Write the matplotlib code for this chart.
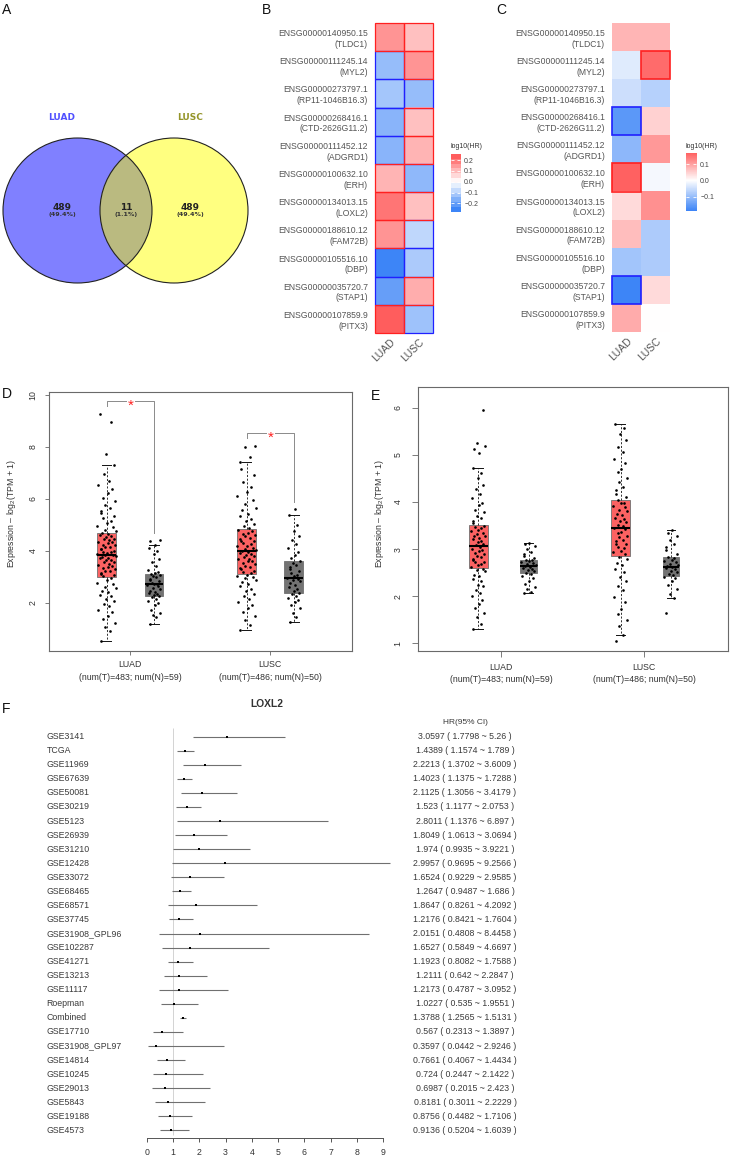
import numpy as np
import matplotlib
matplotlib.use('Agg')
import matplotlib.pyplot as plt
from matplotlib.patches import Ellipse, Rectangle
from matplotlib.colors import LinearSegmentedColormap, Normalize
from matplotlib.transforms import blended_transform_factory

plt.rcParams['font.family'] = ['Liberation Sans', 'DejaVu Sans']
plt.rcParams['mathtext.fontset'] = 'custom'
plt.rcParams['mathtext.rm'] = 'Liberation Sans'
plt.rcParams['mathtext.it'] = 'Liberation Sans:italic'

# ------------------------------------------------------------------ data
# A: Venn
venn_sets = ['LUAD', 'LUSC']
venn_counts = [489, 11, 489]          # LUAD only, both, LUSC only

# B / C heatmaps
gene_ids = ['ENSG00000140950.15', 'ENSG00000111245.14', 'ENSG00000273797.1',
            'ENSG00000268416.1', 'ENSG00000111452.12', 'ENSG00000100632.10',
            'ENSG00000134013.15', 'ENSG00000188610.12', 'ENSG00000105516.10',
            'ENSG00000035720.7', 'ENSG00000107859.9']
gene_symbols = ['TLDC1', 'MYL2', 'RP11-1046B16.3', 'CTD-2626G11.2', 'ADGRD1', 'ERH',
                'LOXL2', 'FAM72B', 'DBP', 'STAP1', 'PITX3']
heat_cols = ['LUAD', 'LUSC']
hr_b_luad = [0.17, -0.15, -0.13, -0.17, -0.17, 0.12, 0.22, 0.17, -0.28, -0.22, 0.256]
hr_b_lusc = [0.10, 0.17, -0.15, 0.10, 0.12, -0.16, 0.10, -0.09, -0.12, 0.13, -0.14]
sig_b_luad = [1, 1, 1, 1, 1, 1, 1, 1, 1, 1, 1]
sig_b_lusc = [1, 1, 1, 1, 1, 1, 1, 1, 1, 1, 1]
hr_c_luad = [0.08, -0.03, -0.05, -0.16, -0.11, 0.17, 0.04, 0.07, -0.09, -0.19, 0.09]
hr_c_lusc = [0.08, 0.16, -0.07, 0.05, 0.11, -0.01, 0.12, -0.08, -0.08, 0.04, 0.0]
sig_c_luad = [0, 0, 0, 1, 0, 1, 0, 0, 0, 1, 0]
sig_c_lusc = [0, 1, 0, 0, 0, 0, 0, 0, 0, 0, 0]

# D / E boxplots (order: LUAD-T, LUAD-N, LUSC-T, LUSC-N)
box_cats = ['LUAD', 'LUSC']
num_t = [483, 486]
num_n = [59, 50]
box_d_med = [3.85, 2.72, 4.00, 2.95]
box_d_q1 = [2.99, 2.27, 3.10, 2.37]
box_d_q3 = [4.70, 3.10, 4.83, 3.62]
box_d_lo = [0.55, 1.18, 0.96, 1.28]
box_d_hi = [7.28, 4.24, 7.43, 5.36]
sig_d = [True, True]
pts_d_luad_t = [0.55, 0.93, 1.07, 1.22, 1.38, 1.5, 1.64, 1.73, 1.86, 1.94, 2.06, 2.13, 2.26, 2.31,
                2.42, 2.47, 2.56, 2.61, 2.72, 2.77, 2.87, 2.94, 3.02, 3.07, 3.09, 3.16, 3.21, 3.23,
                3.29, 3.34, 3.36, 3.43, 3.47, 3.49, 3.55, 3.57, 3.63, 3.66, 3.71, 3.72, 3.77, 3.8,
                3.83, 3.84, 3.88, 3.9, 3.94, 3.96, 4.01, 4.05, 4.07, 4.13, 4.15, 4.21, 4.23, 4.29,
                4.33, 4.35, 4.41, 4.45, 4.47, 4.53, 4.55, 4.61, 4.64, 4.69, 4.76, 4.81, 4.91, 4.97,
                5.07, 5.14, 5.26, 5.34, 5.46, 5.54, 5.66, 5.77, 5.91, 6.04, 6.21, 6.36, 6.52, 6.69,
                6.96, 7.28, 7.7, 8.95, 9.25]
pts_d_luad_n = [1.18, 1.45, 1.52, 1.61, 1.74, 1.9, 2.0, 2.08, 2.15, 2.21, 2.25, 2.3, 2.34, 2.38,
                2.42, 2.47, 2.52, 2.58, 2.63, 2.68, 2.71, 2.74, 2.78, 2.83, 2.88, 2.93, 2.98, 3.03,
                3.08, 3.12, 3.16, 3.2, 3.28, 3.41, 3.55, 3.7, 3.86, 3.98, 4.1, 4.24, 4.36, 4.43]
pts_d_lusc_t = [0.96, 1.16, 1.34, 1.51, 1.64, 1.79, 1.9, 2.03, 2.13, 2.26, 2.35, 2.47, 2.54, 2.65,
                2.71, 2.81, 2.86, 2.95, 2.99, 3.05, 3.08, 3.13, 3.19, 3.22, 3.29, 3.32, 3.39, 3.42,
                3.49, 3.52, 3.59, 3.61, 3.68, 3.7, 3.76, 3.79, 3.85, 3.87, 3.93, 3.95, 3.99, 4.03,
                4.08, 4.1, 4.17, 4.19, 4.26, 4.29, 4.36, 4.39, 4.46, 4.49, 4.56, 4.59, 4.66, 4.69,
                4.76, 4.8, 4.88, 4.96, 5.02, 5.13, 5.21, 5.33, 5.42, 5.56, 5.66, 5.81, 5.94, 6.11,
                6.24, 6.46, 6.64, 6.91, 7.14, 7.43, 7.6, 7.98, 8.02]
pts_d_lusc_n = [1.28, 1.46, 1.61, 1.8, 1.93, 2.02, 2.11, 2.2, 2.28, 2.33, 2.38, 2.45, 2.52, 2.6,
                2.68, 2.75, 2.82, 2.88, 2.93, 2.97, 3.02, 3.08, 3.15, 3.22, 3.3, 3.38, 3.45, 3.52,
                3.6, 3.71, 3.84, 3.95, 4.1, 4.26, 4.4, 4.55, 4.76, 5.0, 5.36, 5.6]

box_e_med = [3.06, 2.65, 3.45, 2.63]
box_e_q1 = [2.60, 2.49, 2.86, 2.43]
box_e_q3 = [3.51, 2.77, 4.05, 2.84]
box_e_lo = [1.30, 2.07, 1.19, 1.97]
box_e_hi = [4.72, 3.14, 5.66, 3.40]
sig_e = [False, False]
pts_e_luad_t = [1.3, 1.42, 1.56, 1.64, 1.76, 1.83, 1.93, 2.0, 2.08, 2.13, 2.21, 2.25, 2.33, 2.36,
                2.43, 2.46, 2.53, 2.55, 2.59, 2.62, 2.66, 2.68, 2.72, 2.73, 2.78, 2.8, 2.84, 2.86,
                2.9, 2.92, 2.96, 2.98, 3.01, 3.04, 3.08, 3.1, 3.15, 3.17, 3.21, 3.23, 3.27, 3.29,
                3.33, 3.35, 3.39, 3.41, 3.45, 3.47, 3.5, 3.56, 3.6, 3.67, 3.71, 3.79, 3.84, 3.93,
                3.99, 4.09, 4.16, 4.28, 4.37, 4.51, 4.61, 4.72, 5.05, 5.12, 5.18, 5.25, 5.95]
pts_e_luad_n = [2.07, 2.1, 2.15, 2.2, 2.26, 2.32, 2.38, 2.43, 2.47, 2.5, 2.53, 2.56, 2.58, 2.6,
                2.62, 2.64, 2.66, 2.68, 2.7, 2.72, 2.74, 2.76, 2.78, 2.81, 2.85, 2.9, 2.95, 3.0,
                3.06, 3.1, 3.14]
pts_e_lusc_t = [1.05, 1.19, 1.36, 1.49, 1.63, 1.74, 1.89, 1.99, 2.13, 2.21, 2.33, 2.41, 2.51, 2.57,
                2.66, 2.71, 2.79, 2.83, 2.89, 2.94, 2.96, 3.02, 3.04, 3.1, 3.12, 3.18, 3.2, 3.26,
                3.28, 3.34, 3.36, 3.42, 3.44, 3.49, 3.51, 3.57, 3.59, 3.65, 3.67, 3.73, 3.75, 3.81,
                3.83, 3.89, 3.91, 3.97, 3.99, 4.04, 4.11, 4.16, 4.26, 4.32, 4.43, 4.51, 4.63, 4.71,
                4.83, 4.92, 5.06, 5.17, 5.31, 5.44, 5.57, 5.66]
pts_e_lusc_n = [1.65, 1.97, 2.05, 2.15, 2.25, 2.32, 2.38, 2.42, 2.45, 2.48, 2.51, 2.54, 2.57, 2.6,
                2.62, 2.64, 2.66, 2.69, 2.72, 2.75, 2.78, 2.81, 2.84, 2.9, 2.98, 3.05, 3.12, 3.2,
                3.28, 3.35, 3.4]

# F: forest plot
forest_title = 'LOXL2'
forest_names = ['GSE3141', 'TCGA', 'GSE11969', 'GSE67639', 'GSE50081', 'GSE30219', 'GSE5123',
                'GSE26939', 'GSE31210', 'GSE12428', 'GSE33072', 'GSE68465', 'GSE68571',
                'GSE37745', 'GSE31908_GPL96', 'GSE102287', 'GSE41271', 'GSE13213', 'GSE11117',
                'Roepman', 'Combined', 'GSE17710', 'GSE31908_GPL97', 'GSE14814', 'GSE10245',
                'GSE29013', 'GSE5843', 'GSE19188', 'GSE4573']
forest_hr = [3.0597, 1.4389, 2.2213, 1.4023, 2.1125, 1.523, 2.8011, 1.8049, 1.974, 2.9957,
             1.6524, 1.2647, 1.8647, 1.2176, 2.0151, 1.6527, 1.1923, 1.2111, 1.2173, 1.0227,
             1.3788, 0.567, 0.3597, 0.7661, 0.724, 0.6987, 0.8181, 0.8756, 0.9136]
forest_lo = [1.7798, 1.1574, 1.3702, 1.1375, 1.3056, 1.1177, 1.1376, 1.0613, 0.9935, 0.9695,
             0.9229, 0.9487, 0.8261, 0.8421, 0.4808, 0.5849, 0.8082, 0.642, 0.4787, 0.535,
             1.2565, 0.2313, 0.0442, 0.4067, 0.2447, 0.2015, 0.3011, 0.4482, 0.5204]
forest_hi = [5.26, 1.789, 3.6009, 1.7288, 3.4179, 2.0753, 6.897, 3.0694, 3.9221, 9.2566,
             2.9585, 1.686, 4.2092, 1.7604, 8.4458, 4.6697, 1.7588, 2.2847, 3.0952, 1.9551,
             1.5131, 1.3897, 2.9246, 1.4434, 2.1422, 2.423, 2.2229, 1.7106, 1.6039]

# ------------------------------------------------------------------ figure
W, H = 730, 1159
fig = plt.figure(figsize=(W / 100, H / 100), dpi=100)


def axpx(x0, y0, x1, y1):
    return fig.add_axes([x0 / W, 1 - y1 / H, (x1 - x0) / W, (y1 - y0) / H])


def ftext(x, y, s, **kw):
    return fig.text(x / W, 1 - y / H, s, **kw)


for lab, (x, y) in zip('ABCDEF', [(2, 3), (262, 3), (496, 3), (2, 387), (371, 389), (2, 702)]):
    ftext(x, y, lab, fontsize=10, va='top', ha='left', color='#111111')

# ------------------------------------------------------------------ A: Venn
axa = axpx(0, 0, 250, 300)
axa.set_xlim(0, 250)
axa.set_ylim(300, 0)
axa.axis('off')
cl, cr = (77.5, 210.5), (174, 210.5)
eL = Ellipse(cl, 149, 145, fc='#8080ff', ec='none')
eR = Ellipse(cr, 148, 145, fc='#ffff80', ec='none')
eI = Ellipse(cl, 149, 145, fc='#baba80', ec='none')
for p in (eL, eR, eI):
    axa.add_patch(p)
eI.set_clip_path(eR)
axa.add_patch(Ellipse(cl, 149, 145, fill=False, ec='#222222', lw=0.8))
axa.add_patch(Ellipse(cr, 148, 145, fill=False, ec='#222222', lw=0.8))
total = sum(venn_counts)
venn_x = [62, 126, 190]
for x, c in zip(venn_x, venn_counts):
    axa.text(x, 207, str(c), ha='center', va='center', fontsize=6.5, fontweight='bold',
             family='DejaVu Sans', color='#222222')
    axa.text(x, 214.5, '(%.1f%%)' % (100 * c / total), ha='center', va='center', fontsize=4.6,
             fontweight='bold', family='DejaVu Sans', color='#333333')
axa.text(62, 118, venn_sets[0], ha='center', va='center', fontsize=6.5, fontweight='bold',
         family='DejaVu Sans', color='#5050ff')
axa.text(190, 118, venn_sets[1], ha='center', va='center', fontsize=6.5, fontweight='bold',
         family='DejaVu Sans', color='#95952a')

# ------------------------------------------------------------------ B, C heatmaps
cmap = LinearSegmentedColormap.from_list('hr', ['#3d85f7', '#ffffff', '#ff5050'])


def heatmap(box, luad, lusc, sl, ss, cbox, title_xy, ticks, tlabels, lw, steps):
    ax = axpx(*box)
    data = np.column_stack([luad, lusc])
    sig = np.column_stack([sl, ss])
    m = np.abs(data).max()
    norm = Normalize(-m, m)
    ax.imshow(data, cmap=cmap, norm=norm, aspect='auto', interpolation='nearest')
    n = data.shape[0]
    for i in range(n):
        for j in range(2):
            if sig[i, j]:
                ax.add_patch(Rectangle((j - 0.5, i - 0.5), 1, 1, fill=False, clip_on=False,
                                       ec='#ff2020' if data[i, j] > 0 else '#2020ff', lw=lw,
                                       zorder=3 + (1 if data[i, j] > 0 else 0)))
    ax.set_xlim(-0.5, 1.5)
    ax.set_ylim(n - 0.5, -0.5)
    ax.set_yticks(range(n))
    ax.set_yticklabels(['%s\n(%s)' % (g, s) for g, s in zip(gene_ids, gene_symbols)],
                       fontsize=6.2, color='#555555', linespacing=1.25)
    ax.set_xticks([0, 1])
    ax.set_xticklabels(heat_cols, rotation=45, ha='right', va='top', rotation_mode='anchor',
                       fontsize=7.5, color='#555555')
    ax.tick_params(length=0, pad=5)
    ax.tick_params(axis='x', pad=3)
    for s in ax.spines.values():
        s.set_visible(False)
    cax = axpx(*cbox)
    dmin, dmax = data.min(), data.max()
    grad = np.linspace(dmax, dmin, steps)[:, None]
    cax.imshow(grad, cmap=cmap, norm=norm, aspect='auto', extent=(0, 1, dmin, dmax),
               interpolation='nearest')
    cax.set_xlim(0, 1)
    cax.set_ylim(dmin, dmax)
    cax.set_xticks([])
    cax.set_yticks(ticks)
    cax.set_yticklabels(tlabels)
    cax.yaxis.tick_right()
    cax.tick_params(axis='y', direction='in', color='white', length=2, width=0.6,
                    labelcolor='#444444', labelsize=5, pad=3, left=True, right=True)
    for s in cax.spines.values():
        s.set_visible(False)
    ftext(title_xy[0], title_xy[1], 'log10(HR)', fontsize=5, color='#333333', va='center')


heatmap((375, 23, 433, 333), hr_b_luad, hr_b_lusc, sig_b_luad, sig_b_lusc,
        (451, 154, 460, 212), (451, 147), [-0.2, -0.1, 0.0, 0.1, 0.2],
        ['\u22120.2', '\u22120.1', '0.0', '0.1', '0.2'], 0.9, 12)
heatmap((612, 23, 670, 332), hr_c_luad, hr_c_lusc, sig_c_luad, sig_c_lusc,
        (686, 153, 696, 211), (685, 147), [-0.1, 0.0, 0.1],
        ['\u22120.1', '0.0', '0.1'], 1.2, 200)

# ------------------------------------------------------------------ D, E boxplots
JIT = [-0.62, 0.35, -0.15, 0.8, -0.4, 0.1, 0.55, -0.85, 0.25, -0.3, 0.7, -0.05, 0.45,
       -0.7, 0.15, -0.5, 0.9, -0.2, 0.6, -0.95, 0.05, 0.4, -0.35, 0.75, -0.6]
FILLS = ['#fb6262', '#737373', '#fb6262', '#737373']


def box_panel(box, xlim, ylim, yticks, med, q1, q3, lo, hi, pts, offs, widths, jits, sig,
              ylab_x, tick_len, tick_pad):
    ax = axpx(*box)
    pos = [c + o for c in (1, 2) for o in offs]
    wid = widths * 2
    stats = [dict(med=med[k], q1=q1[k], q3=q3[k], whislo=lo[k], whishi=hi[k], fliers=[])
             for k in range(4)]
    res = ax.bxp(stats, positions=pos, widths=wid, patch_artist=True, manage_ticks=False,
                 capwidths=[w * 0.5 for w in wid], showfliers=False,
                 boxprops=dict(edgecolor='#707070', linewidth=0.6),
                 whiskerprops=dict(color='#111111', linewidth=0.6, linestyle=(0, (2.5, 2))),
                 capprops=dict(color='#111111', linewidth=0.7),
                 medianprops=dict(color='#000000', linewidth=1.5), zorder=2)
    for b, c in zip(res['boxes'], FILLS):
        b.set_facecolor(c)
    for k in range(4):
        vals = pts[k]
        xs = [pos[k] + JIT[i % len(JIT)] * jits[k % 2] for i in range(len(vals))]
        ax.plot(xs, vals, 'o', ms=1.9, mew=0, color='black', zorder=3)
    for k in range(2):
        if sig[k]:
            xt, xn = pos[2 * k], pos[2 * k + 1]
            ytop = max(pts[2 * k]) + 0.5
            ynrm = max(pts[2 * k + 1]) + 0.26
            xm = (xt + xn) / 2
            g = 0.032
            ax.plot([xt, xt, xm - g], [ytop - 0.2, ytop, ytop], color='#8a8a8a', lw=0.7)
            ax.plot([xm + g, xn, xn], [ytop, ytop, ynrm], color='#8a8a8a', lw=0.7)
            ax.annotate('*', (xm, ytop), xytext=(0, -6.2), textcoords='offset points',
                        ha='center', va='baseline', color='#ff2020', fontsize=11)
    ax.set_xlim(*xlim)
    ax.set_ylim(*ylim)
    ax.set_xticks([1, 2])
    ax.set_xticklabels(['%s\n(num(T)=%d; num(N)=%d)' % (c, t, n)
                        for c, t, n in zip(box_cats, num_t, num_n)],
                       fontsize=6.3, color='#333333', linespacing=1.45)
    ax.set_yticks(yticks)
    ax.set_yticklabels([str(v) for v in yticks], rotation=90, va='center', fontsize=6.3,
                       color='#333333')
    ax.tick_params(axis='both', length=tick_len, width=0.6, color='#666666', pad=tick_pad)
    ax.tick_params(axis='x', pad=3.8)
    for s in ax.spines.values():
        s.set_color('#6a6a6a')
        s.set_linewidth(0.8)
    ftext(ylab_x, 513, 'Expression \u2013 log$_2$(TPM + 1)', rotation=90, ha='center',
          va='center', fontsize=6.3, color='#333333')
    return ax


box_panel((49, 392, 352, 651), (0.421, 2.586), (0.15, 10.1), [2, 4, 6, 8, 10],
          box_d_med, box_d_q1, box_d_q3, box_d_lo, box_d_hi,
          [pts_d_luad_t, pts_d_luad_n, pts_d_lusc_t, pts_d_lusc_n],
          (-0.167, 0.171), [0.135, 0.135], [0.071, 0.05], sig_d, 12, 3, 5.3)
box_panel((418, 387, 728, 651), (0.415, 2.589), (0.84, 6.44), [1, 2, 3, 4, 5, 6],
          box_e_med, box_e_q1, box_e_q3, box_e_lo, box_e_hi,
          [pts_e_luad_t, pts_e_luad_n, pts_e_lusc_t, pts_e_lusc_n],
          (-0.164, 0.19), [0.133, 0.115], [0.053, 0.056], sig_e, 380, 4.5, 6.5)

# ------------------------------------------------------------------ F: forest plot
axf = axpx(100, 725, 400, 1138)
n = len(forest_names)
rows = np.arange(n)
axf.set_xlim(-1.776, 9.635)
axf.set_ylim(28.54, -0.83)
axf.vlines(1, -0.62, 28.3, color='#cccccc', lw=0.6, zorder=1)
axf.hlines(rows, forest_lo, forest_hi, color='#707070', lw=0.8, zorder=2)
axf.plot(forest_hr, rows, 's', ms=1.9, mew=0, color='black', zorder=3)
for s in ('left', 'right', 'top'):
    axf.spines[s].set_visible(False)
axf.spines['bottom'].set_bounds(0, 9)
axf.spines['bottom'].set_color('#555555')
axf.spines['bottom'].set_linewidth(0.7)
axf.set_yticks([])
axf.set_xticks(range(10))
axf.tick_params(axis='x', length=3, width=0.7, color='#555555', labelsize=6.3,
                labelcolor='#333333', pad=4.3)
trans = blended_transform_factory(fig.transFigure, axf.transData)
for i in range(n):
    axf.text(46.7 / W, i, forest_names[i], transform=trans, ha='left', va='center',
             fontsize=6.3, color='#3a3a3a')
    axf.text(465 / W, i, '%s ( %s ~ %s )' % (forest_hr[i], forest_lo[i], forest_hi[i]),
             transform=trans, ha='center', va='center', fontsize=6.3, color='#3a3a3a')
axf.text(465 / W, -1.02, 'HR(95% CI)', transform=trans, ha='center', va='center',
         fontsize=6.0, color='#3a3a3a')
ftext(267, 704, forest_title, ha='center', va='center', fontsize=7.4, fontweight='bold',
      color='#333333')

fig.savefig('out.png', dpi=100)
